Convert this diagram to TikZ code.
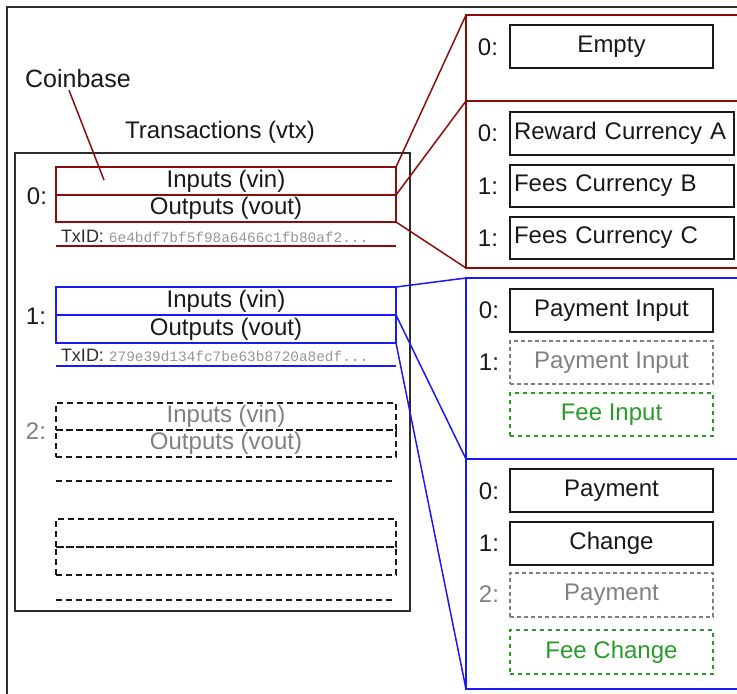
\documentclass[tikz,border=0pt]{standalone}
\usepackage{fontspec}
\setmainfont{Liberation Sans}
\newfontfamily\hashfont{Liberation Mono}
\definecolor{dred}{RGB}{140,12,12}
\definecolor{bblue}{RGB}{25,25,250}
\definecolor{fgreen}{RGB}{40,155,40}
\definecolor{ltxt}{RGB}{128,128,128}
\definecolor{hashc}{RGB}{150,150,150}
\definecolor{framec}{RGB}{45,45,45}
\definecolor{ink}{RGB}{25,25,25}
\tikzset{
  every node/.style={inner sep=0pt, outer sep=0pt, font=\fontsize{24}{28}\selectfont, text=ink},
  txrow/.style={draw, line width=1.6pt, anchor=north west, minimum width=340pt, minimum height=28pt},
  redrow/.style={txrow, draw=dred},
  bluerow/.style={txrow, draw=bblue},
  ghostrow/.style={txrow, draw=ink, dash pattern=on 6pt off 4pt, text=ltxt},
  panelbox/.style={draw, line width=1.8pt, anchor=north west, minimum width=320pt},
  itembox/.style={draw=ink, line width=1.6pt, anchor=north west, minimum width=203pt, minimum height=43pt},
  leftitem/.style={itembox, minimum width=224pt, text width=216pt, inner xsep=4pt, align=left},
  grayitem/.style={itembox, draw=ltxt, dash pattern=on 4pt off 3pt, text=ltxt},
  greenitem/.style={itembox, draw=fgreen, dash pattern=on 4pt off 4pt, text=fgreen},
  txidlabel/.style={anchor=base west, font=\fontsize{18}{20}\selectfont, text=framec},
}
\begin{document}
\begin{tikzpicture}[x=1pt,y=-1pt]
\useasboundingbox (0,0) rectangle (737,694);
\clip (0,0) rectangle (737,694);
% outer frame (cropped)
\draw[framec, line width=1.5pt] (7,720) -- (7,7) -- (760,7);

% titles
\node (cb) at (78,79) {\fontsize{25}{28}\selectfont Coinbase};
\node (title) at (220,132) {Transactions (vtx)};

% transactions box
\node[draw=framec, line width=1.8pt, anchor=north west, minimum width=395pt, minimum height=458pt] (vtx) at (15,153) {};

% tx 0
\node[redrow] (in0) at (56,167) {Inputs (vin)};
\node[redrow, minimum height=27pt] (out0) at (56,195) {Outputs (vout)};
\node (n0) at (37,196) {0:};
\node[txidlabel] (id0) at (61,242) {TxID: {\hashfont\fontsize{14.4}{16}\selectfont\color{hashc}6e4bdf7bf5f98a6466c1fb80af2...}};
\draw[dred, line width=1.6pt] (56,246) -- (396,246);
\coordinate (cbtip) at (104,180);
\draw[dred, line width=1.5pt] ([xshift=-9pt,yshift=-2pt]cb.south) -- (cbtip);

% tx 1
\node[bluerow] (in1) at (56,287) {Inputs (vin)};
\node[bluerow] (out1) at (56,315) {Outputs (vout)};
\node (n1) at (36,316) {1:};
\node[txidlabel] (id1) at (61,361) {TxID: {\hashfont\fontsize{14.4}{16}\selectfont\color{hashc}279e39d134fc7be63b8720a8edf...}};
\draw[bblue, line width=1.6pt] (56,366) -- (396,366);

% tx 2 (ghost)
\node[ghostrow, minimum height=27pt] (in2) at (56,403) {Inputs (vin)};
\node[ghostrow, minimum height=27pt] (out2) at (56,430) {Outputs (vout)};
\node[text=ltxt] (n2) at (36,431) {2:};
\draw[ink, line width=1.6pt, dash pattern=on 6pt off 4pt] (56,481) -- (393,481);

% further ghost rows
\node[ghostrow] (in3) at (56,519) {};
\node[ghostrow] (out3) at (56,547) {};
\draw[ink, line width=1.6pt, dash pattern=on 6pt off 4pt] (56,600) -- (393,600);

% right panels
\node[panelbox, draw=dred, minimum height=86pt] (rp1) at (466,15) {};
\node[panelbox, draw=dred, minimum height=167pt] (rp2) at (466,101) {};
\node[panelbox, draw=bblue, minimum height=181pt] (bp1) at (466,278) {};
\node[panelbox, draw=bblue, minimum height=230pt] (bp2) at (466,459) {};

% connectors
\draw[dred, line width=1.5pt] (in0.north east) -- (rp1.north west);
\draw[dred, line width=1.5pt] (out0.north east) -- (rp2.north west);
\draw[dred, line width=1.5pt] (out0.south east) -- (rp2.south west);
\draw[bblue, line width=1.5pt] (in1.north east) -- (bp1.north west);
\draw[bblue, line width=1.5pt] (out1.north east) -- (bp1.south west);
\draw[bblue, line width=1.5pt] (out1.south east) -- (bp2.south west);

% coinbase vin
\node[itembox] (empty) at (510,25) {Empty};
\node (e0) at (488,47) {0:};
% coinbase vout
\node[leftitem] (rwa) at (510,112) {Reward Currency A};
\node[leftitem, minimum height=42pt] (fcb) at (510,165) {Fees Currency B};
\node[leftitem, minimum height=42pt] (fcc) at (510,217) {Fees Currency C};
\node (r0) at (488,133) {0:};
\node (r1) at (488,186) {1:};
\node (r2) at (488,238) {1:};

% tx1 vin
\node[itembox] (pi0) at (510,289) {Payment Input};
\node[grayitem] (pi1) at (510,341) {Payment Input};
\node[greenitem] (fi) at (510,393) {Fee Input};
\node (p0) at (489,310) {0:};
\node (p1) at (489,362) {1:};

% tx1 vout
\node[itembox] (pay) at (510,469) {Payment};
\node[itembox] (chg) at (510,522) {Change};
\node[grayitem, minimum height=44pt] (pay2) at (510,573) {Payment};
\node[greenitem, minimum height=44pt] (fchg) at (510,630) {Fee Change};
\node (o0) at (489,491) {0:};
\node (o1) at (489,543) {1:};
\node[text=ltxt] (o2) at (489,594) {2:};
\end{tikzpicture}
\end{document}
